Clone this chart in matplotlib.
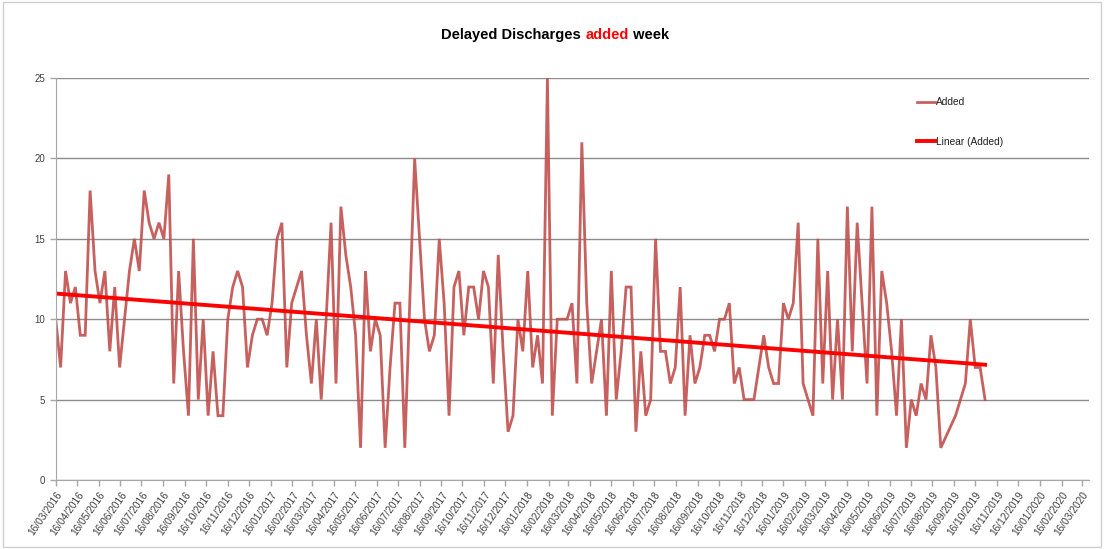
"""
Delayed Discharges - weekly 'added' count with linear trend.
"""

import numpy as np
import pandas as pd
import matplotlib
matplotlib.use("Agg")
import matplotlib.pyplot as plt
import matplotlib.dates as mdates
from matplotlib.offsetbox import TextArea, HPacker, AnchoredOffsetbox
from matplotlib.patches import Rectangle


START_DATE = "2016-03-16"
END_TICK = "2020-03-16"

# weekly values from 16/03/2016, None = week with no record
added = [
    10, 7, 13, 11, 12, 9, 9, 18, 13, 11,
    13, 8, 12, 7, 10, 13, 15, 13, 18, 16,
    15, 16, 15, 19, 6, 13, 8, 4, 15, 5,
    10, 4, 8, 4, 4, 10, 12, 13, 12, 7,
    9, 10, 10, 9, 11, 15, 16, 7, 11, 12,
    13, 9, 6, 10, 5, 10, 16, 6, 17, 14,
    12, 9, 2, 13, 8, 10, 9, 2, 7, 11,
    11, 2, 11, 20, 15, 10, 8, 9, 15, 11,
    4, 12, 13, 9, 12, 12, 10, 13, 12, 6,
    14, 8, 3, 4, 10, 8, 13, 7, 9, 6,
    25, 4, 10, 10, 10, 11, 6, 21, 11, 6,
    8, 10, 4, 13, 5, 8, 12, 12, 3, 8,
    4, 5, 15, 8, 8, 6, 7, 12, 4, 9,
    6, 7, 9, 9, 8, 10, 10, 11, 6, 7,
    5, 5, 5, 7, 9, 7, 6, 6, 11, 10,
    11, 16, 6, 5, 4, 15, 6, 13, 5, 10,
    5, 17, 8, 16, 11, 6, 17, 4, 13, 11,
    8, 4, 10, 2, 5, 4, 6, 5, 9, 7,
    2, None, None, 4, 5, 6, 10, 7, 7, 5,
]

y_ticks = [0, 5, 10, 15, 20, 25]

SERIES_COLOR = "#C0504D"
TREND_COLOR = "#FF0000"
GRID_COLOR = "#8C8C8C"
TEXT_COLOR = "#404040"
NARROW = ["Liberation Sans Narrow", "Liberation Sans", "DejaVu Sans"]

weeks = pd.date_range(START_DATE, periods=len(added), freq="7D")
df = pd.DataFrame({"week": weeks, "added": added}).dropna()
df["added"] = df["added"].astype(float)

# Excel-style linear trend over the date axis
x_num = mdates.date2num(df["week"])
slope, intercept = np.polyfit(x_num, df["added"].values, 1)
trend = slope * x_num + intercept

month_ticks = pd.date_range(START_DATE, END_TICK, freq=pd.DateOffset(months=1))

fig = plt.figure(figsize=(11.04, 5.49), dpi=100)
ax = fig.add_axes([55.7 / 1104, 69 / 549, (1089 - 55.7) / 1104, (480 - 78) / 549])

ax.plot(df["week"], df["added"], color=SERIES_COLOR, lw=2.0, alpha=0.9,
        label="Added", solid_joinstyle="miter")
ax.plot(df["week"], trend, color=TREND_COLOR, lw=2.8, label="Linear (Added)")

ax.set_ylim(0, 25)
ax.set_yticks(y_ticks)
ax.set_xlim(pd.Timestamp(START_DATE), pd.Timestamp(END_TICK) + pd.Timedelta(days=10))
ax.set_xticks(month_ticks)
ax.set_xticklabels([d.strftime("%d/%m/%Y") for d in month_ticks],
                   rotation=55, ha="right", va="top", rotation_mode="anchor")

ax.grid(axis="y", color=GRID_COLOR, lw=1.0)
ax.set_axisbelow(True)
for side in ["top", "right"]:
    ax.spines[side].set_visible(False)
for side in ["left", "bottom"]:
    ax.spines[side].set_color("#A6A6A6")
ax.tick_params(axis="both", colors="#A6A6A6", labelcolor=TEXT_COLOR,
               labelsize=7, length=4, width=1)
ax.tick_params(axis="x", pad=3, labelsize=7.3)
for lbl in ax.get_xticklabels() + ax.get_yticklabels():
    lbl.set_family(NARROW)

leg = ax.legend(loc="upper left", bbox_to_anchor=(908 / 1104, 1 - 88 / 549),
                bbox_transform=fig.transFigure, frameon=False,
                labelspacing=2.9, handlelength=1.8, handletextpad=0.05,
                prop={"family": NARROW, "size": 7.3})
for t in leg.get_texts():
    t.set_color("#202020")

# title with the word "added" in red
title_font = {"family": NARROW, "size": 10.5, "weight": "bold"}
parts = [TextArea("Delayed Discharges ", textprops=dict(color="black", **title_font)),
         TextArea("added", textprops=dict(color="#FF0000", **title_font)),
         TextArea(" week", textprops=dict(color="black", **title_font))]
title_box = AnchoredOffsetbox(loc="center", child=HPacker(children=parts, pad=0, sep=0),
                              bbox_to_anchor=(555 / 1104, 1 - 35 / 549),
                              bbox_transform=fig.transFigure, frameon=False, pad=0)
ax.add_artist(title_box)

# chart area border
fig.add_artist(Rectangle((0.003, 0.003), 0.994, 0.994, transform=fig.transFigure,
                         fill=False, edgecolor="#D0D0D0", lw=1.0))

fig.savefig("out.png", dpi=100)
